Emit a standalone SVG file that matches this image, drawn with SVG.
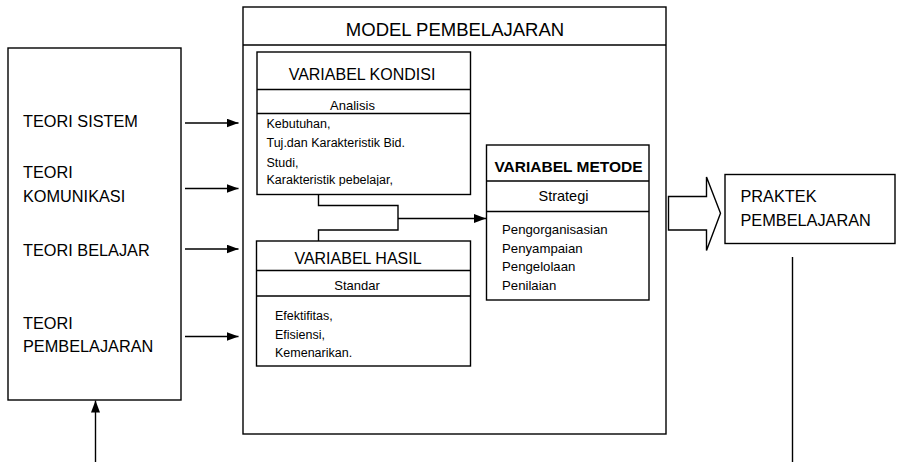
<svg xmlns="http://www.w3.org/2000/svg" width="898" height="462" viewBox="0 0 898 462">
  <style>
    .box { fill: #fff; stroke: #000; stroke-width: 1.4; }
    .ln { fill: none; stroke: #000; stroke-width: 1.4; }
    .t { font-family: "Liberation Sans", Arial, sans-serif; fill: #000; }
    .lbl { font-size: 16.3px; }
    .ttl { font-size: 16px; text-anchor: middle; }
    .sub { font-size: 13px; text-anchor: middle; }
    .body { font-size: 12.5px; }
  </style>
  <defs>
    <marker id="arrow" markerUnits="userSpaceOnUse" markerWidth="12" markerHeight="9" refX="12" refY="4.5" orient="auto">
      <path d="M0,0 L12,4.5 L0,9 Z" fill="#000"/>
    </marker>
    <clipPath id="kondisi-clip">
      <rect x="257" y="114" width="213" height="72"/>
    </clipPath>
  </defs>

  <!-- Theories feeding the model -->
  <g id="teori">
    <rect class="box" x="8" y="48" width="173" height="352"/>
    <text class="t lbl" x="23" y="127">TEORI SISTEM</text>
    <text class="t lbl" x="23" y="178">TEORI</text>
    <text class="t lbl" x="23" y="201.5">KOMUNIKASI</text>
    <text class="t lbl" x="23" y="256">TEORI BELAJAR</text>
    <text class="t lbl" x="23" y="329">TEORI</text>
    <text class="t lbl" x="23" y="351.5">PEMBELAJARAN</text>
  </g>

  <!-- Outer model frame -->
  <g id="model">
    <rect class="box" x="243" y="7" width="423" height="427"/>
    <line class="ln" x1="243" y1="45" x2="666" y2="45"/>
    <text class="t" x="455" y="36" font-size="18.5" text-anchor="middle">MODEL PEMBELAJARAN</text>
  </g>

  <g id="variabel-kondisi">
    <rect class="box" x="257" y="52" width="213.5" height="142.5"/>
    <line class="ln" x1="257" y1="89.5" x2="470.5" y2="89.5"/>
    <line class="ln" x1="257" y1="113.5" x2="470.5" y2="113.5"/>
    <text class="t ttl" x="362" y="80">VARIABEL KONDISI</text>
    <text class="t sub" x="352.5" y="109.5">Analisis</text>
    <g clip-path="url(#kondisi-clip)">
      <text class="t body" x="266.5" y="128">Kebutuhan,</text>
      <text class="t body" x="266.5" y="147">Tuj.dan Karakteristik Bid.</text>
      <text class="t body" x="266.5" y="166.5">Studi,</text>
      <text class="t body" x="266.5" y="184">Karakteristik pebelajar,</text>
    </g>
  </g>

  <g id="variabel-hasil">
    <rect class="box" x="256.5" y="241" width="214" height="125"/>
    <line class="ln" x1="256.5" y1="270.5" x2="470.5" y2="270.5"/>
    <line class="ln" x1="256.5" y1="296" x2="470.5" y2="296"/>
    <text class="t ttl" x="358" y="264">VARIABEL HASIL</text>
    <text class="t sub" x="357" y="290">Standar</text>
    <text class="t body" x="275" y="319.5">Efektifitas,</text>
    <text class="t body" x="275" y="338.5">Efisiensi,</text>
    <text class="t body" x="275" y="357">Kemenarikan.</text>
  </g>

  <g id="variabel-metode">
    <rect class="box" x="486.5" y="145" width="162.5" height="155"/>
    <line class="ln" x1="486.5" y1="181" x2="649" y2="181"/>
    <line class="ln" x1="486.5" y1="211.5" x2="649" y2="211.5"/>
    <text class="t" x="568.5" y="171.5" font-size="15.5" font-weight="bold" text-anchor="middle">VARIABEL METODE</text>
    <text class="t" x="563.5" y="201" font-size="14.5" text-anchor="middle">Strategi</text>
    <text class="t" x="502" y="234" font-size="13.2">Pengorganisasian</text>
    <text class="t" x="502" y="252.5" font-size="13.2">Penyampaian</text>
    <text class="t" x="502" y="271" font-size="13.2">Pengelolaan</text>
    <text class="t" x="502" y="289.5" font-size="13.2">Penilaian</text>
  </g>

  <g id="praktek">
    <rect class="box" x="725" y="174.5" width="170" height="69"/>
    <text class="t lbl" x="740.5" y="201.5">PRAKTEK</text>
    <text class="t lbl" x="740.5" y="226">PEMBELAJARAN</text>
  </g>

  <g id="connectors">
    <!-- theory arrows into the model -->
    <line class="ln" x1="185" y1="123" x2="238.5" y2="123" marker-end="url(#arrow)"/>
    <line class="ln" x1="185" y1="188.5" x2="238.5" y2="188.5" marker-end="url(#arrow)"/>
    <line class="ln" x1="185" y1="249" x2="238.5" y2="249" marker-end="url(#arrow)"/>
    <line class="ln" x1="185" y1="336.5" x2="238.5" y2="336.5" marker-end="url(#arrow)"/>
    <!-- bracket joining kondisi and hasil -->
    <path class="ln" d="M318.5,194.5 V205.5 H398 V230 H318.5 V241"/>
    <line class="ln" x1="398" y1="218.5" x2="486" y2="218.5" marker-end="url(#arrow)"/>
    <!-- block arrow to practice -->
    <path class="box" d="M668.5,196.5 H706.5 V177 L720.5,213.3 L706.5,250.5 V230 H668.5 Z"/>
    <!-- feedback lines -->
    <line class="ln" x1="792.5" y1="257" x2="792.5" y2="462"/>
    <line class="ln" x1="95.5" y1="462" x2="95.5" y2="400.5" marker-end="url(#arrow)"/>
  </g>
</svg>
